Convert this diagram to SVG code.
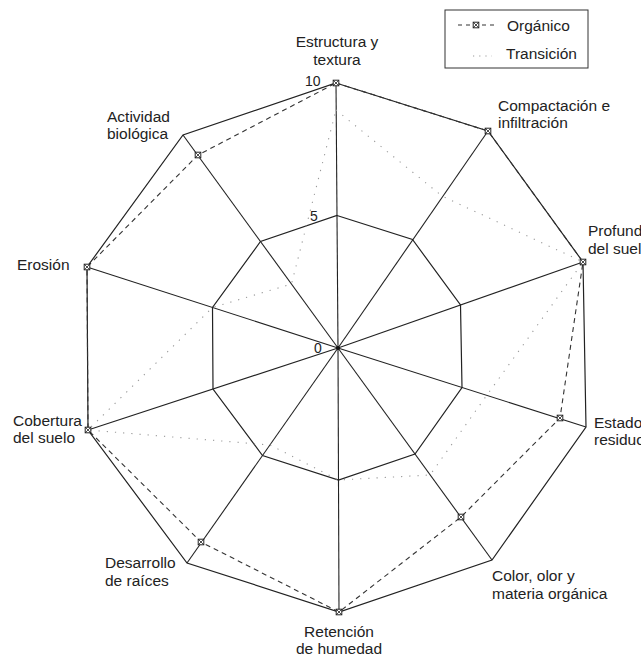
<svg xmlns="http://www.w3.org/2000/svg" width="641" height="656" viewBox="0 0 641 656">
<defs>
<style>
.grid{fill:none;stroke:#222;stroke-width:1.2;stroke-linejoin:miter}
.axis{stroke:#222;stroke-width:1.1}
.org{fill:none;stroke:#333;stroke-width:1.1;stroke-dasharray:5 4}
.tra{fill:none;stroke:#999;stroke-width:1.1;stroke-dasharray:1.2 7}
.lbl{font-family:"Liberation Sans",Arial,sans-serif;font-size:15.5px;fill:#222}
.num{font-family:"Liberation Sans",Arial,sans-serif;font-size:14px;fill:#222}
.mk{fill:#fff;stroke:#222;stroke-width:1}
</style>
<g id="m"><rect class="mk" x="-2.8" y="-2.8" width="5.6" height="5.6"/><path d="M-2.8-2.8L2.8 2.8M2.8-2.8L-2.8 2.8" stroke="#222" stroke-width="0.8"/></g>
</defs>
<rect width="641" height="656" fill="#fff"/>
<g id="grid">
<polygon class="grid" points="336,83 488,131 583,262 586,427 492,560 339,612 187,563 88,430 87,267 183,135"/>
<polygon class="grid" points="337,215.5 412.5,239.5 460.5,305 462,387.5 415,454 338.5,480 262.5,455.5 213,389 212.5,307.5 260.5,241.5"/>
</g>
<g id="connectors">
<line class="axis" x1="338" y1="348" x2="336" y2="83"/>
<line class="axis" x1="338" y1="348" x2="488" y2="131"/>
<line class="axis" x1="338" y1="348" x2="583" y2="262"/>
<line class="axis" x1="338" y1="348" x2="586" y2="427"/>
<line class="axis" x1="338" y1="348" x2="492" y2="560"/>
<line class="axis" x1="338" y1="348" x2="339" y2="612"/>
<line class="axis" x1="338" y1="348" x2="187" y2="563"/>
<line class="axis" x1="338" y1="348" x2="88" y2="430"/>
<line class="axis" x1="338" y1="348" x2="87" y2="267"/>
<line class="axis" x1="338" y1="348" x2="183" y2="135"/>
<circle cx="338" cy="348" r="2" fill="#111"/>
</g>
<g id="transicion">
<polygon class="tra" points="336,110 442,196 583,262 487,395 430,475 338.5,480 270,445 88,430 212.5,307.5 291.5,284"/>
</g>
<g id="organico">
<polygon class="org" points="336,83 488,131 583,262 560,418 461,517 339,612 201,542 88,430 87,267 198,155"/>
<use href="#m" x="336" y="83"/>
<use href="#m" x="488" y="131"/>
<use href="#m" x="583" y="262"/>
<use href="#m" x="560" y="418"/>
<use href="#m" x="461" y="517"/>
<use href="#m" x="339" y="612"/>
<use href="#m" x="201" y="542"/>
<use href="#m" x="88" y="430"/>
<use href="#m" x="87" y="267"/>
<use href="#m" x="198" y="155"/>
</g>
<g id="scale">
<text class="num" x="305" y="86">10</text>
<text class="num" x="310" y="221">5</text>
<text class="num" x="314" y="353">0</text>
</g>
<g id="labels">
<g id="n-estructura"><text class="lbl" x="337" y="47" text-anchor="middle">Estructura y</text><text class="lbl" x="337" y="65" text-anchor="middle">textura</text></g>
<g id="n-compactacion"><text class="lbl" x="498" y="111">Compactación e</text><text class="lbl" x="498" y="128">infiltración</text></g>
<g id="n-profundidad"><text class="lbl" x="588" y="236">Profundidad</text><text class="lbl" x="588" y="254">del suelo</text></g>
<g id="n-estado"><text class="lbl" x="594" y="428">Estado de</text><text class="lbl" x="594" y="445">residuos</text></g>
<g id="n-color"><text class="lbl" x="492" y="581">Color, olor y</text><text class="lbl" x="492" y="599">materia orgánica</text></g>
<g id="n-retencion"><text class="lbl" x="339" y="637" text-anchor="middle">Retención</text><text class="lbl" x="339" y="654" text-anchor="middle">de humedad</text></g>
<g id="n-desarrollo"><text class="lbl" x="105" y="568">Desarrollo</text><text class="lbl" x="105" y="586">de raíces</text></g>
<g id="n-cobertura"><text class="lbl" x="13" y="426">Cobertura</text><text class="lbl" x="13" y="443">del suelo</text></g>
<g id="n-erosion"><text class="lbl" x="17" y="270">Erosión</text></g>
<g id="n-actividad"><text class="lbl" x="107" y="122">Actividad</text><text class="lbl" x="107" y="139">biológica</text></g>
</g>
<g id="legend">
<rect x="445" y="10" width="143" height="58" fill="#fff" stroke="#333" stroke-width="1"/>
<line class="org" x1="458" y1="25" x2="494" y2="25" style="stroke-dasharray:4 4"/>
<use href="#m" x="476" y="25"/>
<text class="lbl" x="507" y="31">Orgánico</text>
<line class="tra" x1="473" y1="56" x2="492" y2="56" style="stroke-dasharray:1.2 5"/>
<text class="lbl" x="506" y="59">Transición</text>
</g>
</svg>
